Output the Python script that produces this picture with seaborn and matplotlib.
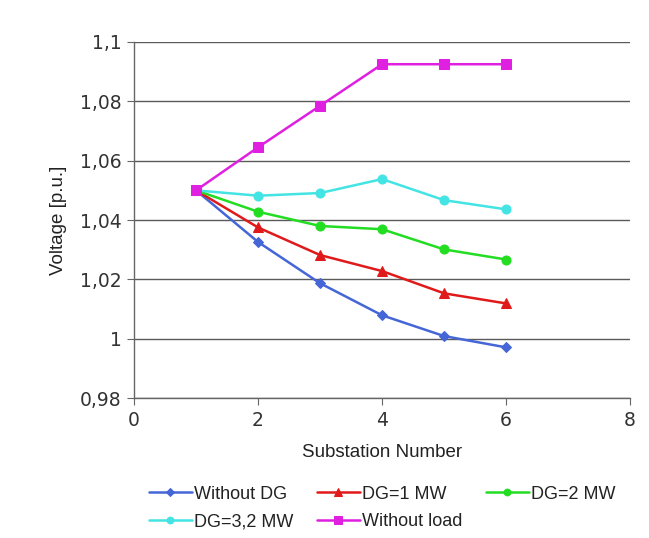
import matplotlib
matplotlib.use("Agg")
import matplotlib.pyplot as plt
from matplotlib.ticker import FuncFormatter, MultipleLocator
import seaborn as sns
import pandas as pd

substations = [1, 2, 3, 4, 5, 6]
without_dg = [1.050, 1.0326, 1.0187, 1.0079, 1.0009, 0.9971]
dg_1mw = [1.050, 1.0375, 1.0282, 1.0228, 1.0153, 1.0119]
dg_2mw = [1.050, 1.0428, 1.0380, 1.0369, 1.0301, 1.0267]
dg_32mw = [1.050, 1.0482, 1.0491, 1.0538, 1.0467, 1.0436]
without_load = [1.050, 1.0645, 1.0785, 1.0925, 1.0925, 1.0925]

series_names = ["Without DG", "DG=1 MW", "DG=2 MW", "DG=3,2 MW", "Without load"]
series_values = [without_dg, dg_1mw, dg_2mw, dg_32mw, without_load]
colors = ["#4466d6", "#e01a1a", "#22dd22", "#44e4e4", "#e020e0"]
markers = ["D", "^", "o", "o", "s"]
msizes = [5.5, 7.5, 6.5, 6.5, 7]

rows = []
for name, vals in zip(series_names, series_values):
    for x, v in zip(substations, vals):
        rows.append({"Substation": x, "Voltage": v, "Series": name})
df = pd.DataFrame(rows)

sns.set_style("white")
plt.rcParams["font.family"] = ["Liberation Sans", "DejaVu Sans"]

fig = plt.figure(figsize=(6.49, 5.38), dpi=100)
ax = fig.add_axes([0.2065, 0.26, 0.7645, 0.662])

for name, col, mk, ms in zip(series_names, colors, markers, msizes):
    sub = df[df["Series"] == name]
    sns.lineplot(data=sub, x="Substation", y="Voltage", ax=ax, color=col,
                 marker=mk, markersize=ms, markeredgecolor=col, linewidth=1.8,
                 label=name, zorder=3)

ax.set_xlim(0, 8)
ax.set_ylim(0.98, 1.1)
ax.xaxis.set_major_locator(MultipleLocator(2))
ax.yaxis.set_major_locator(MultipleLocator(0.02))
ax.yaxis.set_major_formatter(FuncFormatter(lambda v, p: f"{round(v, 2):g}".replace(".", ",")))
ax.xaxis.set_major_formatter(FuncFormatter(lambda v, p: f"{v:g}"))
ax.grid(axis="y", color="#5a5a5a", linewidth=1)
ax.grid(axis="x", visible=False)
for s in ["top", "right"]:
    ax.spines[s].set_visible(False)
for s in ["left", "bottom"]:
    ax.spines[s].set_color("#666666")
    ax.spines[s].set_linewidth(1)
ax.tick_params(axis="both", which="major", length=5, color="#666666",
               labelsize=13.5, labelcolor="#333333", direction="out",
               left=True, bottom=True, pad=4)
for lab in ax.get_xticklabels() + ax.get_yticklabels():
    lab.set_family("DejaVu Sans")
ax.set_xlabel("Substation Number", fontsize=13.5, color="#222222", labelpad=10)
ax.set_ylabel("Voltage [p.u.]", fontsize=13.5, color="#222222", labelpad=9)

handles, labels = ax.get_legend_handles_labels()
order = [0, 3, 1, 4, 2]
leg = ax.legend([handles[i] for i in order], [labels[i] for i in order],
                ncol=3, loc="upper center", bbox_to_anchor=(0.5, -0.2),
                frameon=False, fontsize=13, handlelength=2.4, handletextpad=0.1,
                columnspacing=1.3, labelspacing=0.6, markerscale=0.75)
for t in leg.get_texts():
    t.set_color("#222222")

fig.savefig("out.png", dpi=100, facecolor="white")
